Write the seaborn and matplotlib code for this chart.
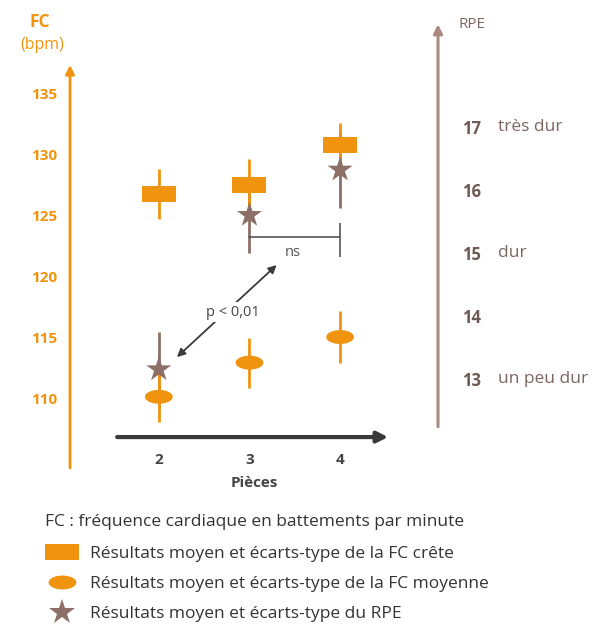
import numpy as np
import pandas as pd
import seaborn as sns
import matplotlib.pyplot as plt
import matplotlib.transforms as mtransforms
from matplotlib.path import Path
from matplotlib.markers import MarkerStyle
from matplotlib.lines import Line2D

# ---------------- data ----------------
pieces = [2, 3, 4]
fc_crete = [126.7, 127.5, 130.7]
fc_crete_sd = [2.05, 2.1, 1.85]
fc_moy = [110.1, 112.9, 115.0]
fc_moy_sd = [2.05, 2.05, 2.1]
rpe = [13.15, 15.6, 16.32]
rpe_sd = [0.6, 0.6, 0.6]
fc_ticks = [110, 115, 120, 125, 130, 135]
rpe_ticks = [13, 14, 15, 16, 17]
rpe_word_levels = [13, 15, 17]
rpe_words = ["un peu dur", "dur", "très dur"]
legend_labels = ["Résultats moyen et écarts-type de la FC crête",
                 "Résultats moyen et écarts-type de la FC moyenne",
                 "Résultats moyen et écarts-type du RPE"]

# ---------------- style ----------------
ORANGE = "#F0940F"
BROWN = "#8C6F67"
BROWN_AX = "#A88A82"
BROWN_TXT = "#6F5A55"
DARK = "#3A3A3A"

sns.set_theme(style="white")
plt.rcParams["font.family"] = ["Open Sans", "DejaVu Sans"]

W, H = 599, 624
fig = plt.figure(figsize=(W / 100, H / 100), dpi=100)
fig.patch.set_facecolor("white")


def fy(py):
    return 1 - py / H


ax = fig.add_axes([70 / W, 1 - 445 / H, 368 / W, (445 - 23) / H])
ax.set_xlim(1.02, 5.08)
ax.set_ylim(106.15, 140.74)
ax2 = ax.twinx()
ax2.set_ylim(11.95, 18.65)
for a in (ax, ax2):
    for s in a.spines.values():
        s.set_visible(False)
    a.patch.set_visible(False)

# marker shapes
rect_marker = MarkerStyle(Path([(-1, -0.47), (1, -0.47), (1, 0.47), (-1, 0.47), (-1, -0.47)],
                               [Path.MOVETO, Path.LINETO, Path.LINETO, Path.LINETO, Path.CLOSEPOLY]))
t = np.linspace(0, 2 * np.pi, 60)
ell_marker = MarkerStyle(Path(np.column_stack([np.cos(t), 0.5 * np.sin(t)]), closed=True))

df = pd.DataFrame({"piece": pieces, "crete": fc_crete, "moy": fc_moy, "rpe": rpe})

# RPE error bars (drawn at the bottom, in RPE coordinates)
ax.vlines(pieces, np.array(rpe) - np.array(rpe_sd), np.array(rpe) + np.array(rpe_sd),
          transform=ax2.transData, color=BROWN, lw=2, zorder=1)
# FC error bars
ax.errorbar(pieces, fc_crete, yerr=fc_crete_sd, fmt="none", ecolor=ORANGE, elinewidth=2,
            capsize=0, zorder=2)
ax.errorbar(pieces, fc_moy, yerr=fc_moy_sd, fmt="none", ecolor=ORANGE, elinewidth=2,
            capsize=0, zorder=2)
# markers
sns.scatterplot(data=df, x="piece", y="crete", marker=rect_marker, s=600, color=ORANGE,
                edgecolor="none", linewidth=0, ax=ax, zorder=3)
sns.scatterplot(data=df, x="piece", y="moy", marker=ell_marker, s=400, color=ORANGE,
                edgecolor="none", linewidth=0, ax=ax, zorder=3)
sns.scatterplot(data=df, x="piece", y="rpe", marker="*", s=360, color=BROWN,
                edgecolor="none", linewidth=0, ax=ax2, zorder=4)

ax.set_xlim(1.02, 5.08)
ax.set_ylim(106.15, 140.74)
ax2.set_ylim(11.95, 18.65)

# axis arrows
ax.annotate("", xy=(0, 137.3), xytext=(0, 104.26), xycoords=("axes fraction", "data"),
            arrowprops=dict(arrowstyle="-|>", color=ORANGE, lw=2, mutation_scale=13,
                            shrinkA=0, shrinkB=0), annotation_clip=False)
ax2.annotate("", xy=(1, 18.63), xytext=(1, 12.24), xycoords=("axes fraction", "data"),
             arrowprops=dict(arrowstyle="-|>", color=BROWN_AX, lw=2.2, mutation_scale=13,
                             shrinkA=0, shrinkB=0), annotation_clip=False)
ax.annotate("", xy=(4.53, 106.8), xytext=(1.54, 106.8),
            arrowprops=dict(arrowstyle="-|>", color=DARK, lw=3, mutation_scale=16,
                            shrinkA=0, shrinkB=0), annotation_clip=False)

# ticks
ax.set_yticks(fc_ticks)
ax.tick_params(axis="y", length=0, pad=9.5, labelcolor=ORANGE, labelsize=11)
for lb in ax.get_yticklabels():
    lb.set_fontweight("bold")
ax2.set_yticks(rpe_ticks)
ax2.tick_params(axis="y", length=0, pad=17, labelcolor=BROWN_TXT, labelsize=12)
for lb in ax2.get_yticklabels():
    lb.set_fontweight("bold")
ax.set_xticks(pieces)
ax.tick_params(axis="x", length=0, pad=6, labelcolor="#444444", labelsize=11)
for lb in ax.get_xticklabels():
    lb.set_fontweight("bold")
ax.set_xlabel("Pièces", fontsize=11, fontweight="bold", color="#444444", labelpad=6)
ax.set_ylabel("")
ax2.set_ylabel("")

blend = mtransforms.blended_transform_factory(ax2.transAxes, ax2.transData)
for lvl, w in zip(rpe_word_levels, rpe_words):
    ax2.text(1.163, lvl, w, transform=blend, ha="left", va="center", fontsize=12.5,
             color="#7B6660")

# significance annotations
ax2.plot([3, 4], [15.25, 15.25], color="#555555", lw=1.2, zorder=2)
ax2.vlines([4], [14.94], [15.48], color="#555555", lw=1.2, zorder=2)
ax.text(3.48, 121.9, "ns", ha="center", va="center", fontsize=10.5, color="#555555")
ax.annotate("", xy=(2.2, 113.36), xytext=(3.30, 120.9),
            arrowprops=dict(arrowstyle="<|-|>", color=DARK, lw=1.3, mutation_scale=12,
                            shrinkA=0, shrinkB=0))
ax.text(2.82, 117.05, "p < 0,01", ha="center", va="center", fontsize=10.5, color="#444444",
        bbox=dict(fc="white", ec="none", pad=1.5), zorder=5)

# titles of axes
fig.text(40 / W, fy(22), "FC", ha="center", va="center", color=ORANGE, fontsize=12.5,
         fontweight="bold")
fig.text(42 / W, fy(45), "(bpm)", ha="center", va="center", color=ORANGE, fontsize=11.5)
fig.text(472 / W, fy(24), "RPE", ha="center", va="center", color="#7B6660", fontsize=11)

# legend
fig.text(45 / W, fy(522), "FC : fréquence cardiaque en battements par minute", ha="left",
         va="center", fontsize=12.5, color="#333333")
handles = [Line2D([], [], ls="none", marker=rect_marker, markersize=np.sqrt(600),
                  color=ORANGE, markeredgewidth=0),
           Line2D([], [], ls="none", marker=ell_marker, markersize=np.sqrt(400),
                  color=ORANGE, markeredgewidth=0),
           Line2D([], [], ls="none", marker="*", markersize=np.sqrt(360),
                  color=BROWN, markeredgewidth=0)]
leg = fig.legend(handles, legend_labels, loc="upper left", bbox_to_anchor=(45 / W, fy(546)),
                 frameon=False, fontsize=12.5, handlelength=1.97, handletextpad=0.62,
                 labelspacing=0.79, borderpad=0, borderaxespad=0, numpoints=1)
for txt in leg.get_texts():
    txt.set_color("#333333")

fig.savefig("out.png", dpi=100, facecolor="white")
